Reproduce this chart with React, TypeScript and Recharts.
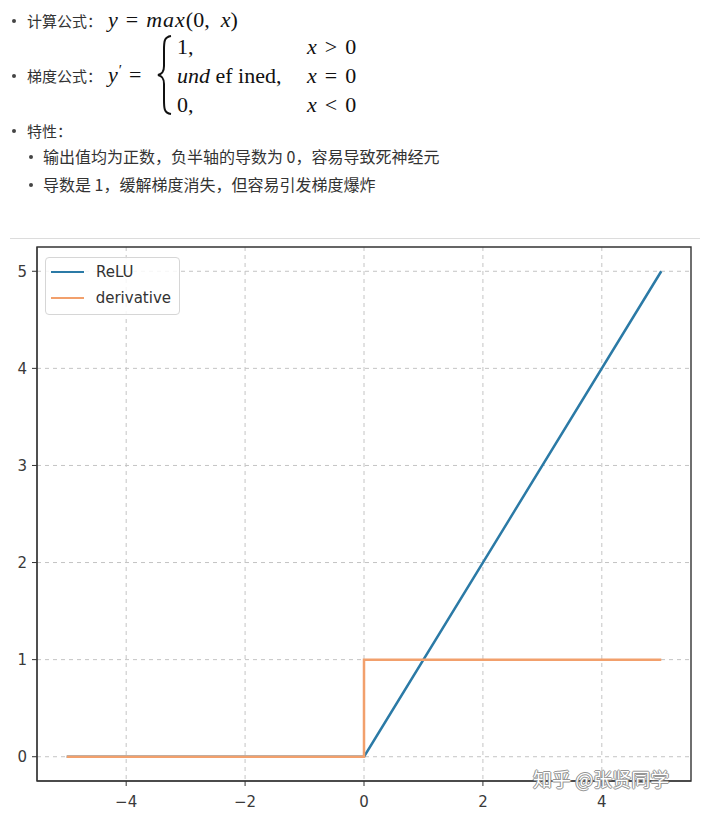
import React from "react";
import {
	LineChart,
	Line,
	XAxis,
	YAxis,
	CartesianGrid,
	ReferenceArea,
	Legend,
} from "recharts";

// ReLU sampled at its break points
const reluX = [-5, 0, 5];
const reluY = [0, 0, 5];
// derivative: step from 0 to 1 at x = 0
const derivX = [-5, 0, 0, 5];
const derivY = [0, 0, 1, 1];

const xTicks = [-4, -2, 0, 2, 4];
const yTicks = [0, 1, 2, 3, 4, 5];
const xDomain = [-5.5, 5.5];
const yDomain = [-0.25, 5.25];

const seriesNames = ["ReLU", "derivative"];
const seriesColors = ["#2b7aa6", "#f2a06c"];

const reluData = reluX.map((x, i) => ({ x, y: reluY[i] }));
const derivData = derivX.map((x, i) => ({ x, y: derivY[i] }));

const cjk = '"Noto Sans CJK SC", "Noto Sans", sans-serif';
const mathFont = '"Liberation Serif", "DejaVu Serif", serif';
const tickFont = '"DejaVu Sans", sans-serif';

const fmt = (v: number) => (v < 0 ? `\u2212${-v}` : `${v}`);

function Bullet({ x, y }: { x: number; y: number }) {
	return (
		<div
			style={{
				position: "absolute",
				left: x,
				top: y,
				width: 4,
				height: 4,
				borderRadius: 2,
				background: "#444",
			}}
		/>
	);
}

function Txt({
	x,
	y,
	children,
	size = 15,
	font = cjk,
}: {
	x: number;
	y: number;
	children: React.ReactNode;
	size?: number;
	font?: string;
}) {
	return (
		<div
			style={{
				position: "absolute",
				left: x,
				top: y,
				fontSize: size,
				fontFamily: font,
				color: font === cjk ? "#333" : "#111",
				whiteSpace: "nowrap",
				lineHeight: 1,
			}}
		>
			{children}
		</div>
	);
}

// relation sign with TeX-like spacing
const Op = ({ c }: { c: string }) => (
	<span style={{ margin: "0 8px" }}>{c}</span>
);

function LegendBox() {
	return (
		<div
			style={{
				background: "rgba(255,255,255,0.85)",
				border: "1px solid #d6d6d6",
				borderRadius: 4,
				padding: "1px 8px 3px 5px",
				fontFamily: tickFont,
				fontSize: 15,
				color: "#333",
				width: 120,
			}}
		>
			{seriesNames.map((n, i) => (
				<div
					key={n}
					style={{ display: "flex", alignItems: "center", height: 26 }}
				>
					<div
						style={{
							width: 33,
							height: 2.4,
							background: seriesColors[i],
							marginRight: 12,
						}}
					/>
					<span>{n}</span>
				</div>
			))}
		</div>
	);
}

export default function App() {
	return (
		<div
			style={{
				position: "absolute",
				left: 0,
				top: 0,
				width: 715,
				height: 823,
				background: "#fff",
				overflow: "hidden",
			}}
		>
			{/* formula text */}
			<Bullet x={12} y={19} />
			<Txt x={27} y={13}>
				计算公式：
			</Txt>
			<Txt x={108} y={9} size={22} font={mathFont}>
				<i>y</i>
				<Op c="=" />
				<i style={{ letterSpacing: 1 }}>max</i>(0,&nbsp;&nbsp;<i>x</i>)
			</Txt>

			<Bullet x={12} y={74} />
			<Txt x={27} y={68}>
				梯度公式：
			</Txt>
			<Txt x={108} y={64} size={22} font={mathFont}>
				<i>y</i>
				<span style={{ position: "relative", top: -7, left: 1, fontSize: 15 }}>′</span>
				<Op c="=" />
			</Txt>
			<svg
				style={{ position: "absolute", left: 156, top: 34 }}
				width={18}
				height={82}
			>
				<path
					d="M15,2 C8,3 8,8 8,16 L8,32 C8,38 6,40 2,41 C6,42 8,44 8,50 L8,66 C8,74 8,79 15,80"
					fill="none"
					stroke="#111"
					strokeWidth={2}
				/>
			</svg>
			<Txt x={177} y={36} size={22} font={mathFont}>
				1,
			</Txt>
			<Txt x={177} y={65} size={22} font={mathFont}>
				<i>und</i>&nbsp;ef&nbsp;ined,
			</Txt>
			<Txt x={177} y={94} size={22} font={mathFont}>
				0,
			</Txt>
			<Txt x={307} y={36} size={22} font={mathFont}>
				<i>x</i>
				<Op c=">" />0
			</Txt>
			<Txt x={307} y={65} size={22} font={mathFont}>
				<i>x</i>
				<Op c="=" />0
			</Txt>
			<Txt x={307} y={94} size={22} font={mathFont}>
				<i>x</i>
				<Op c="<" />0
			</Txt>

			<Bullet x={12} y={129} />
			<Txt x={27} y={123}>
				特性：
			</Txt>
			<Bullet x={29} y={155} />
			<Txt x={43} y={148} size={16}>
				输出值均为正数，负半轴的导数为 0，容易导致死神经元
			</Txt>
			<Bullet x={29} y={183} />
			<Txt x={43} y={176} size={16}>
				导数是 1，缓解梯度消失，但容易引发梯度爆炸
			</Txt>

			<div
				style={{
					position: "absolute",
					left: 10,
					top: 238,
					width: 690,
					height: 1,
					background: "#dcdcdc",
				}}
			/>

			<div style={{ position: "absolute", left: 0, top: 0 }}>
				<LineChart
					width={715}
					height={823}
					margin={{ top: 247, right: 24, bottom: 8, left: 7 }}
				>
					<CartesianGrid
						stroke="#c4c4c4"
						strokeDasharray="4 4"
						horizontalValues={yTicks}
						verticalValues={xTicks}
					/>
					<XAxis
						type="number"
						dataKey="x"
						domain={xDomain}
						ticks={xTicks}
						allowDataOverflow
						tickFormatter={fmt}
						height={34}
						tickSize={5}
						tickMargin={10}
						stroke="#333"
						tick={{ fill: "#3a3a3a", fontSize: 15, fontFamily: tickFont }}
					/>
					<YAxis
						type="number"
						domain={yDomain}
						ticks={yTicks}
						allowDataOverflow
						tickFormatter={fmt}
						width={30}
						tickSize={5}
						tickMargin={5}
						stroke="#333"
						tick={{ fill: "#3a3a3a", fontSize: 15, fontFamily: tickFont }}
					/>
					<Line
						data={reluData}
						dataKey="y"
						name={seriesNames[0]}
						type="linear"
						stroke={seriesColors[0]}
						strokeWidth={2.5}
						dot={false}
						isAnimationActive={false}
					/>
					<Line
						data={derivData}
						dataKey="y"
						name={seriesNames[1]}
						type="linear"
						stroke={seriesColors[1]}
						strokeWidth={2.5}
						dot={false}
						isAnimationActive={false}
					/>
					<ReferenceArea
						x1={xDomain[0]}
						x2={xDomain[1]}
						y1={yDomain[0]}
						y2={yDomain[1]}
						fill="none"
						stroke="#333"
						strokeWidth={1.4}
						ifOverflow="visible"
					/>
					<Legend
						layout="vertical"
						align="center"
						verticalAlign="middle"
						content={() => <LegendBox />}
						wrapperStyle={{ position: "absolute", left: 45, top: 257, width: 136 }}
					/>
				</LineChart>
			</div>

			<div
				style={{
					position: "absolute",
					left: 533,
					top: 769,
					fontFamily: cjk,
					fontSize: 19,
					lineHeight: 1,
					color: "#fff",
					textShadow:
						"0 0 1px #777, 1px 0 0 #999, -1px 0 0 #999, 0 1px 0 #999, 0 -1px 0 #999",
					whiteSpace: "nowrap",
				}}
			>
				知乎 @张贤同学
			</div>
		</div>
	);
}
